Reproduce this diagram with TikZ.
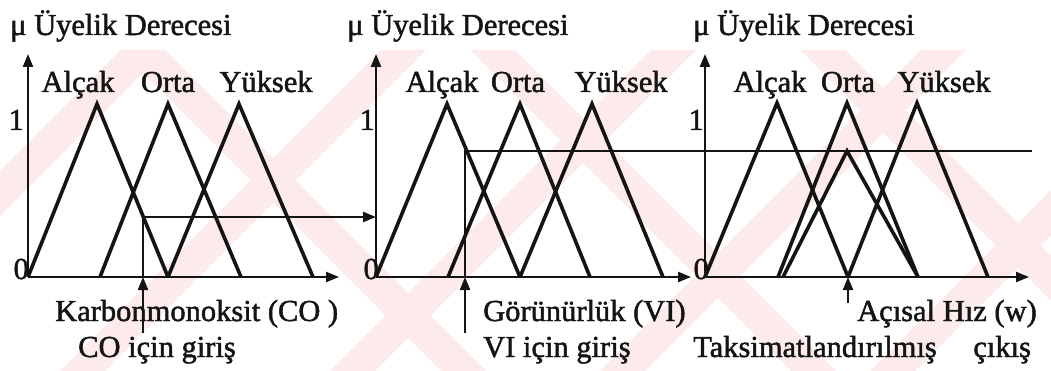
\documentclass[tikz,border=0pt]{standalone}
\usepackage{fontspec}
\setmainfont{Liberation Serif}
\newfontfamily\labelfont{Liberation Serif}[FakeBold=1.6]
\usetikzlibrary{arrows.meta,positioning}
\definecolor{ink}{HTML}{141414}
\definecolor{wmark}{HTML}{FDEBEB}
\tikzset{
  >={Triangle[length=13pt,width=10pt]},
  axis/.style={->, draw=ink, line width=2.2pt},
  mf/.style={draw=ink, line width=3.6pt, line join=miter},
  level/.style={draw=ink, line width=2.4pt},
  inarr/.style={->, draw=ink, line width=2pt},
  txt/.style={font=\labelfont\fontsize{30.5}{36}\selectfont, text=ink, inner sep=0pt, anchor=base},
  ttl/.style={txt, anchor=base west},
  tick/.style={txt, anchor=base east},
  band/.style={fill=wmark, draw=none},
}

\begin{document}
\begin{tikzpicture}[x=1pt, y=-1pt]
  \useasboundingbox (0,0) rectangle (1051,371);
  % faint background stripes
  \begin{scope}
    \clip (0,50) rectangle (1051,371);
    \foreach \b in {-200,60,330,600,870}
      \fill[band] (\b,371) -- ++(45,0) -- ++(321,-321) -- ++(-45,0) -- cycle;
    \foreach \b in {120,470,800}
      \fill[band] (\b,50) -- ++(45,0) -- ++(321,321) -- ++(-45,0) -- cycle;
  \end{scope}
  % axes
  \coordinate (o1) at (28,277);
  \coordinate (o2) at (376,277);
  \coordinate (o3) at (705,277);
  \draw[axis] (o1) -- (28,54);
  \draw[axis] (o1) -- (339,277);
  \draw[axis] (o2) -- (376,54);
  \draw[axis] (o2) -- (691,277);
  \draw[axis] (o3) -- (705,54);
  \draw[axis] (o3) -- (1029,277);
  % titles and ticks
  \node[ttl] (mu1) at (10,35) {μ Üyelik Derecesi};
  \node[ttl] (mu2) at (347,35) {μ Üyelik Derecesi};
  \node[ttl] (mu3) at (693,35) {μ Üyelik Derecesi};
  \node[tick] (one1) at (24,130) {1};
  \node[tick] (one2) at (375,130) {1};
  \node[tick] (one3) at (704,130) {1};
  \node[tick] (zero1) at (29,279) {0};
  \node[tick] (zero2) at (379,279) {0};
  \node[tick] (zero3) at (709,279) {0};
  % membership functions, CO
  \draw[mf] (28,277) -- (97,104) -- (168,277);
  \draw[mf] (100,277) -- (168,104) -- (241,277);
  \draw[mf] (168,277) -- (239,104) -- (313,277);
  \node[txt] (low1) at (78,92) {Alçak};
  \node[txt] (mid1) at (168,92) {Orta};
  \node[txt] (high1) at (266,92) {Yüksek};
  % membership functions, VI
  \draw[mf] (376,277) -- (447,104) -- (520,277);
  \draw[mf] (448,277) -- (520,104) -- (590,277);
  \draw[mf] (520,277) -- (592,104) -- (663,277);
  \node[txt] (low2) at (442,92) {Alçak};
  \node[txt] (mid2) at (518,92) {Orta};
  \node[txt] (high2) at (621,92) {Yüksek};
  % membership functions, w
  \draw[mf] (705,277) -- (777,103) -- (848,277);
  \draw[mf] (778,277) -- (847,103) -- (918,277);
  \draw[mf] (848,277) -- (917,103) -- (988,277);
  \draw[mf] (783,277) -- (847,151) -- (918,277);
  \node[txt] (low3) at (770,92) {Alçak};
  \node[txt] (mid3) at (848,92) {Orta};
  \node[txt] (high3) at (944,92) {Yüksek};
  % CO input
  \coordinate (in1) at (143,333);
  \coordinate (b1) at (143,277);
  \coordinate (c1) at (143,217);
  \draw[inarr] (in1) -- (b1);
  \draw[level] (b1) -- (c1);
  \draw[level, ->] (c1) -- (o2 |- c1);
  % VI input
  \coordinate (in2) at (465,333);
  \coordinate (b2) at (465,277);
  \coordinate (c2) at (465,151);
  \coordinate (e2) at (1032,151);
  \draw[inarr] (in2) -- (b2);
  \draw[level] (b2) -- (c2) -- (e2);
  % output
  \coordinate (in3) at (848,303);
  \coordinate (b3) at (848,277);
  \draw[inarr] (in3) -- (b3);
  % axis captions
  \node[ttl] (co) at (55,321) {Karbonmonoksit (CO )};
  \node[ttl] (coin) at (78,357) {CO için giriş};
  \node[ttl] (vi) at (483,321) {Görünürlük (VI)};
  \node[ttl] (viin) at (483,357) {VI için giriş};
  \node[ttl] (w) at (857,321) {Açısal Hız (w)};
  \node[ttl] (wout) at (693,357) {Taksimatlandırılmış\hspace{1.2em}çıkış};
\end{tikzpicture}
\end{document}
